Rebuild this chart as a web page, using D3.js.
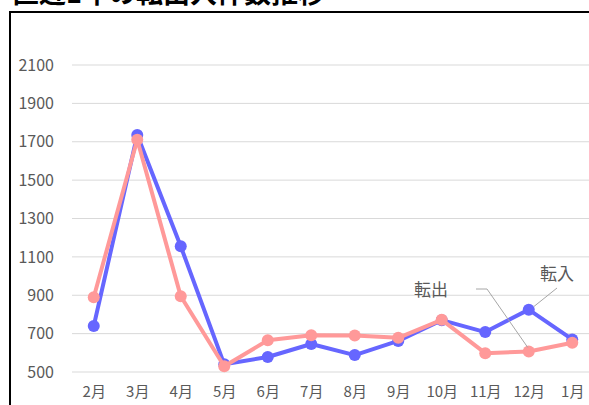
<!DOCTYPE html>
<html><head><meta charset="utf-8">
<script src="https://cdn.jsdelivr.net/npm/d3@7"></script>
<style>html,body{margin:0;padding:0;background:#fff;overflow:hidden}</style>
</head><body>
<svg id="c" width="589" height="405"></svg>
<script>
const title = "直近1年の転出入件数推移";
const months = ["2月","3月","4月","5月","6月","7月","8月","9月","10月","11月","12月","1月"];
const tenyu = [740,1735,1155,540,578,646,588,662,770,708,825,670];
const tenshutsu = [890,1710,895,530,665,692,690,678,772,598,607,652];
const yTicks = [500,700,900,1100,1300,1500,1700,1900,2100];
const seriesNames = ["転入","転出"];

const svg = d3.select("#c");
const font = "'Noto Sans CJK JP','Noto Sans',sans-serif";

svg.append("text").attr("x",12).attr("y",3).attr("font-family",font)
  .attr("font-size",27).attr("font-weight","bold").attr("fill","#000").text(title);

svg.append("rect").attr("x",10).attr("y",12).attr("width",600).attr("height",420)
  .attr("fill","#fff").attr("stroke","#000").attr("stroke-width",2);

const x = d3.scalePoint().domain(months).range([72,594]).padding(0.5);
const y = d3.scaleLinear().domain([500,2100]).range([372,65]);

// grid
svg.append("g").selectAll("line").data(yTicks).join("line")
  .attr("x1",72).attr("x2",589).attr("y1",d=>y(d)).attr("y2",d=>y(d))
  .attr("stroke","#d9d9d9").attr("stroke-width",1);

const yAxis = svg.append("g").attr("transform","translate(54,0)")
  .call(d3.axisLeft(y).tickValues(yTicks).tickFormat(d3.format("d")).tickSize(0).tickPadding(0));
yAxis.select(".domain").remove();
yAxis.selectAll("text").attr("font-family",font).attr("font-size",16).attr("fill","#595959");

const xAxis = svg.append("g").attr("transform","translate(0,383)")
  .call(d3.axisBottom(x).tickSize(0).tickPadding(0));
xAxis.select(".domain").remove();
xAxis.selectAll("text").attr("font-family",font).attr("font-size",15).attr("fill","#595959").attr("dy","0.95em");

const line = d3.line().x((d,i)=>x(months[i])).y(d=>y(d));
function drawSeries(vals,color){
  svg.append("path").datum(vals).attr("d",line).attr("fill","none")
    .attr("stroke",color).attr("stroke-width",4).attr("stroke-linejoin","round");
  svg.append("g").selectAll("circle").data(vals).join("circle")
    .attr("cx",(d,i)=>x(months[i])).attr("cy",d=>y(d)).attr("r",6).attr("fill",color);
}
drawSeries(tenyu,"#6666ff");
drawSeries(tenshutsu,"#ff9999");

// labels with leader lines
const i12 = months.indexOf("12月");
svg.append("polyline").attr("fill","none").attr("stroke","#a6a6a6").attr("stroke-width",1)
  .attr("points",`476,289 487,289 ${x("12月")-1},${y(tenshutsu[i12])-4}`);
svg.append("text").attr("x",431).attr("y",296).attr("text-anchor","middle")
  .attr("font-family",font).attr("font-size",17).attr("fill","#595959").text(seriesNames[1]);
svg.append("line").attr("stroke","#a6a6a6").attr("stroke-width",1)
  .attr("x1",557).attr("y1",288).attr("x2",x("12月")+5).attr("y2",y(tenyu[i12])-3);
svg.append("text").attr("x",557).attr("y",280).attr("text-anchor","middle")
  .attr("font-family",font).attr("font-size",17).attr("fill","#595959").text(seriesNames[0]);
</script>
</body></html>
